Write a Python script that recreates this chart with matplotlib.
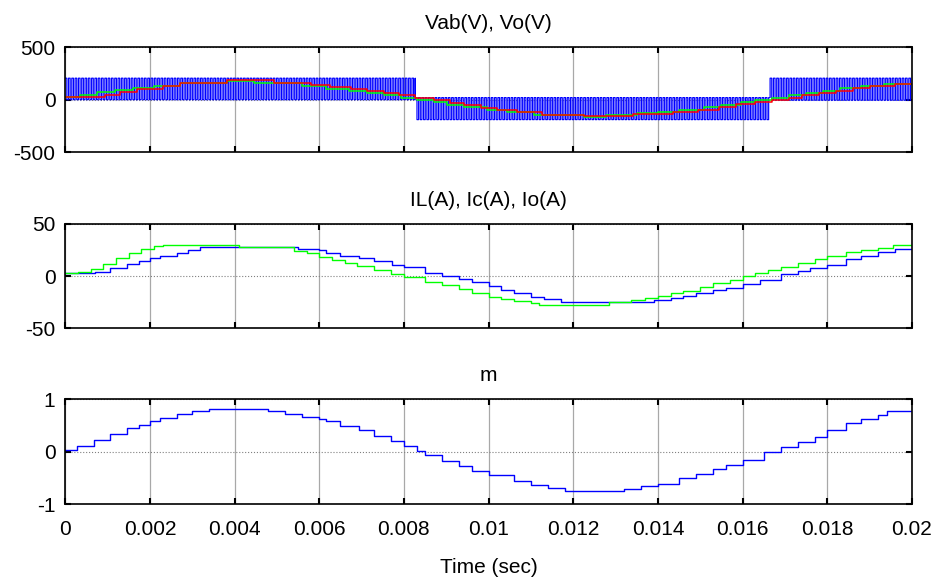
import numpy as np
import matplotlib
matplotlib.use("Agg")
import matplotlib.pyplot as plt

plt.rcParams["font.family"] = ["Liberation Sans", "DejaVu Sans"]
plt.rcParams["font.size"] = 15
plt.rcParams["axes.unicode_minus"] = False

# --- Vab: PWM band, one segment per polarity (times in ms) ---
vab_seg_start = [0.0, 8.27, 16.65]
vab_seg_end = [8.27, 16.65, 20.0]
vab_low = [0, -190, -5]
vab_high = [205, 20, 205]
switch_period_ms = 0.078

# --- Vo reference (green) and Vo (red): staircase, (time ms, value) ---
vref_t = [0, 0.36, 0.75, 1.17, 1.6, 2.1, 2.72, 3.82, 4.45, 5.6, 6.15, 6.7, 7.13, 7.53,
          7.93, 8.32, 8.71, 9.03, 9.42, 9.97, 10.44, 11.07, 12.25, 12.77, 13.5, 14.0,
          14.5, 15.1, 15.5, 15.96, 16.3, 16.7, 17.1, 17.5, 17.9, 18.3, 18.8, 19.35, 20.0]
vref_v = [22, 41, 72, 94, 116, 135, 157, 182, 157, 130, 105, 83, 64, 41,
          19, -6, -26, -48, -70, -96, -118, -144, -166, -144, -128, -115,
          -96, -70, -48, -22, 0, 19, 41, 67, 86, 108, 131, 153, 153]
vo_t = [0, 0.95, 1.3, 1.7, 2.3, 2.72, 3.82, 4.93, 5.8, 6.26, 6.74, 7.13, 7.53, 7.88,
        8.27, 8.71, 9.1, 9.42, 9.81, 10.2, 10.68, 11.27, 12.25, 13.4, 14.35, 14.95,
        15.45, 15.85, 16.3, 16.7, 17.1, 17.4, 17.8, 18.2, 18.6, 19.0, 19.6, 20.0]
vo_v = [22, 47, 72, 100, 132, 157, 186, 157, 137, 121, 102, 83, 64, 41,
        16, -6, -32, -54, -77, -96, -118, -144, -160, -140, -118, -96,
        -70, -45, -22, 0, 19, 41, 64, 86, 108, 131, 153, 153]

# --- currents (time ms, value) ---
ic_t = [0, 0.3, 0.6, 0.9, 1.2, 1.5, 1.8, 2.1, 2.3, 4.1, 5.4, 5.7, 6.0, 6.3, 6.6, 6.9,
        7.3, 7.7, 8.0, 8.5, 8.9, 9.3, 9.6, 10.0, 10.3, 10.6, 11.0, 11.2, 12.85, 13.36,
        13.7, 14.0, 14.3, 14.6, 15.0, 15.3, 15.7, 16.0, 16.3, 16.6, 16.9, 17.3, 17.7,
        18.0, 18.45, 18.8, 19.2, 19.55, 20.0]
ic_v = [2.5, 4, 7, 12, 17, 22, 26, 28.5, 30, 27.5, 24, 22, 18.6, 15, 12.5, 10,
        6, 2, -0.6, -5.4, -9, -12.5, -16, -20, -22, -24, -26, -28, -25, -23,
        -21, -19, -16.5, -14, -10.5, -7, -3.5, 0, 3, 6, 9, 12.5, 16,
        19.5, 23.4, 25, 27, 30, 30]
il_t = [0, 0.7, 1.06, 1.45, 1.75, 2.0, 2.24, 2.63, 2.9, 3.18, 5.5, 6.0, 6.16, 6.5,
        6.94, 7.3, 7.73, 8.0, 8.5, 8.9, 9.3, 9.6, 10.0, 10.3, 10.6, 11.0, 11.3, 11.7,
        13.9, 14.3, 14.6, 14.9, 15.3, 15.6, 16.0, 16.4, 16.9, 17.3, 17.6, 18.0, 18.45,
        18.8, 19.2, 19.6, 20.0]
il_v = [2.5, 4, 7.4, 11.5, 14, 17, 19.5, 22.4, 25, 27.5, 26, 25, 22, 19.5,
        17, 14, 10.6, 8.3, 3.2, 0, -2.9, -6, -10, -13.5, -16.7, -20, -22, -25,
        -23, -21, -19, -16.7, -13.5, -11, -7.7, -4, 1.6, 5, 8, 11, 16,
        19.5, 22.8, 25.6, 25.6]

# --- modulation index m (time ms, value) ---
m_t = [0, 0.27, 0.67, 1.06, 1.45, 1.75, 2.0, 2.24, 2.63, 3.0, 3.4, 4.8, 5.2, 5.6, 6.0,
       6.16, 6.5, 6.94, 7.3, 7.7, 8.0, 8.3, 8.5, 8.9, 9.3, 9.6, 10.0, 10.6, 11.0, 11.4,
       11.8, 13.2, 13.6, 14.0, 14.5, 14.9, 15.3, 15.6, 16.0, 16.5, 16.9, 17.3, 17.7,
       18.0, 18.45, 18.8, 19.2, 19.4, 20.0]
m_v = [0.044, 0.12, 0.23, 0.34, 0.45, 0.52, 0.58, 0.64, 0.72, 0.77, 0.81, 0.77, 0.72,
       0.67, 0.63, 0.58, 0.5, 0.41, 0.31, 0.2, 0.11, 0.01, -0.06, -0.17, -0.27, -0.36,
       -0.45, -0.55, -0.63, -0.69, -0.75, -0.71, -0.66, -0.62, -0.5, -0.42, -0.33, -0.25,
       -0.16, 0, 0.09, 0.18, 0.28, 0.41, 0.55, 0.63, 0.7, 0.77, 0.77]

x_ticks = [0, 0.002, 0.004, 0.006, 0.008, 0.01, 0.012, 0.014, 0.016, 0.018, 0.02]
x_tick_labels = ["0", "0.002", "0.004", "0.006", "0.008", "0.01", "0.012", "0.014",
                 "0.016", "0.018", "0.02"]

titles = ["Vab(V), Vo(V)", "IL(A), Ic(A), Io(A)", "m"]
y_limits = [(-500, 500), (-50, 50), (-1, 1)]
y_ticks = [[-500, 0, 500], [-50, 0, 50], [-1, 0, 1]]


def ms(a):
    return np.asarray(a) / 1000.0


# build the PWM trace from the segment data
pwm_t = []
pwm_v = []
for t0, t1, lo, hi in zip(vab_seg_start, vab_seg_end, vab_low, vab_high):
    edges = np.arange(t0, t1, switch_period_ms / 2)
    levels = np.where(np.arange(len(edges)) % 2 == 0, hi, lo)
    pwm_t.extend(edges)
    pwm_v.extend(levels)
pwm_t.append(20.0)
pwm_v.append(pwm_v[-1])

fig = plt.figure(figsize=(9.45, 5.83), dpi=100)
left, width = 0.069, 0.896
rects = [(left, 0.739, width, 0.180), (left, 0.437, width, 0.179), (left, 0.135, width, 0.180)]
axes = [fig.add_axes(r) for r in rects]

ax = axes[0]
ax.plot(ms(pwm_t), pwm_v, color="#0000ff", lw=0.85, drawstyle="steps-post")
ax.plot(ms(vref_t), vref_v, color="#00ff00", lw=1.1, drawstyle="steps-post")
ax.plot(ms(vo_t), vo_v, color="#ff0000", lw=1.1, drawstyle="steps-post")

ax = axes[1]
ax.plot(ms(il_t), il_v, color="#0000ff", lw=1.0, drawstyle="steps-post")
ax.plot(ms(ic_t), ic_v, color="#00ff00", lw=1.0, drawstyle="steps-post")

ax = axes[2]
ax.plot(ms(m_t), m_v, color="#0000ff", lw=1.0, drawstyle="steps-post")

for i, ax in enumerate(axes):
    ax.set_xlim(0, 0.02)
    ax.set_ylim(*y_limits[i])
    ax.set_xticks(x_ticks)
    ax.set_yticks(y_ticks[i])
    ax.set_title(titles[i], fontsize=15, pad=13)
    ax.tick_params(axis="y", direction="in", length=4, width=1.5, right=True,
                   labelsize=15, pad=7)
    ax.tick_params(axis="x", direction="in", length=4, width=1.5, top=True,
                   labelsize=15, pad=11)
    ax.xaxis.grid(True, color="#a8a8a8", lw=0.9, ls="-")
    ax.yaxis.grid(True, color="#808080", lw=0.8, ls=":")
    ax.set_axisbelow(True)
    for sp in ax.spines.values():
        sp.set_linewidth(1.2)
    if i < 2:
        ax.set_xticklabels([])
    else:
        ax.set_xticklabels(x_tick_labels)
        ax.set_xlabel("Time (sec)", fontsize=15, labelpad=14)

fig.savefig("out.png", dpi=100)
